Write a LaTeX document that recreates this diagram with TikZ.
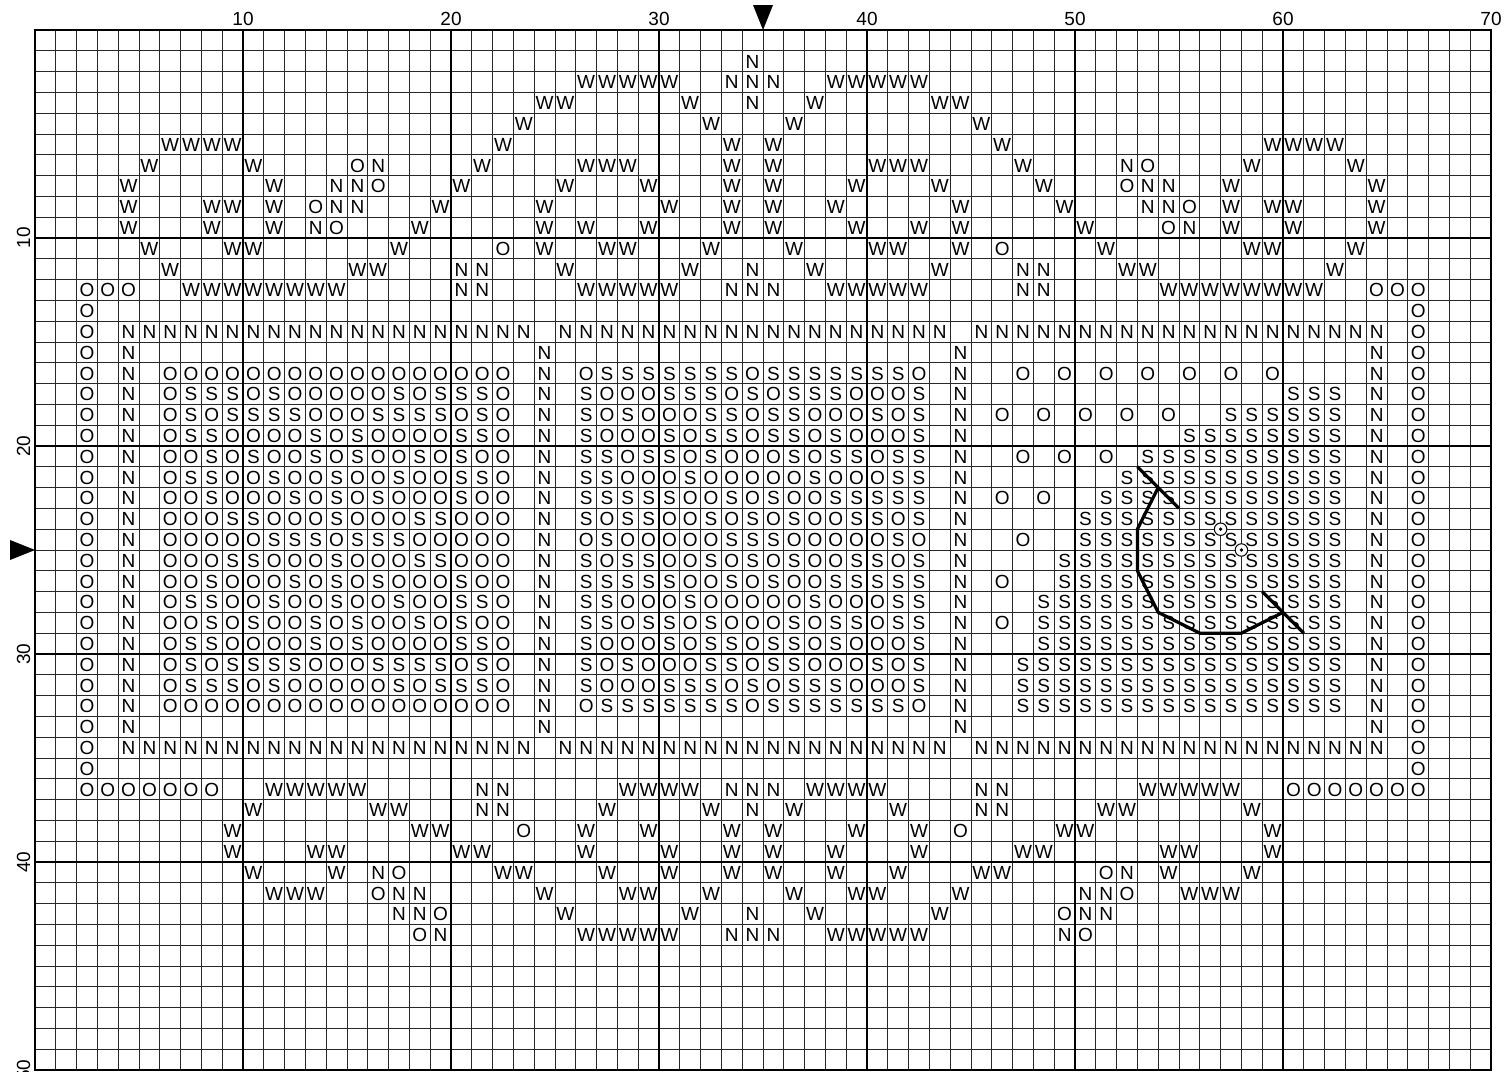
\documentclass[tikz,border=0pt]{standalone}
\usepackage{fontspec}
\setmainfont{Liberation Sans}
\usepackage{tikz}
\definecolor{gridgray}{RGB}{40,40,40}

\newcount\stitchrow
\newcount\stitchcol
\def\parsechars#1{%
  \ifx\relax#1\else
    \advance\stitchcol by 1\relax
    \ifx.#1\else
      \node[sym] (s-\the\stitchrow-\the\stitchcol) at ({\the\stitchcol-0.5},{0.17-\the\stitchrow}) {#1};%
    \fi
    \expandafter\parsechars
  \fi}
\newcommand\chartrow[2]{\stitchrow=#1\relax\stitchcol=0\relax\parsechars#2\relax}
\newcommand\panelrow[4]{\chartrow{#1}{..O.N.#2.N.#3.N.#4.N.O...}}

\begin{document}
\begin{tikzpicture}[
    x=0.5cm, y=0.5cm,
    sym/.style={anchor=base, inner sep=0pt, font=\fontsize{13}{15}\selectfont},
    axislabel/.style={anchor=base, inner sep=0pt, font=\fontsize{13}{15}\selectfont},
    gridline/.style={line width=0.6pt, draw=gridgray},
    majorline/.style={line width=1.3pt, draw=black},
    stitch/.style={line width=2.2pt, line join=round, draw=black},
    knot/.style={draw=black, fill=white, line width=0.7pt},
    marker/.style={fill=black}
]
\useasboundingbox (-1.683,1.442) rectangle (70.673,-50.096);

\foreach \x in {0,...,70} \draw[gridline] (\x,0) -- (\x,-50);
\foreach \y in {0,...,50} \draw[gridline] (0,-\y) -- (70,-\y);
\foreach \x in {10,20,...,60} \draw[majorline] (\x,0) -- (\x,-50);
\foreach \y in {10,20,...,40} \draw[majorline] (0,-\y) -- (70,-\y);
\draw[majorline] (0,0) rectangle (70,-50);

\foreach \x in {10,20,...,70} \node[axislabel] (top\x) at (\x,0.24) {\x};
\foreach \y in {10,20,...,50} \node[axislabel, rotate=90] (side\y) at (-0.24,-\y) {\y};
\fill[marker] (34.52,1.2) -- (35.48,1.2) -- (35,0) -- cycle;
\fill[marker] (-1.2,-24.52) -- (-1.2,-25.48) -- (0,-25) -- cycle;

\chartrow{2}{.......... .......... .......... ....N..... .......... .......... ..........}
\chartrow{3}{.......... .......... ......WWWW W..NNN..WW WWW....... .......... ..........}
\chartrow{4}{.......... .......... ....WW.... .W..N..W.. ...WW..... .......... ..........}
\chartrow{5}{.......... .......... ...W...... ..W...W... .....W.... .......... ..........}
\chartrow{6}{......WWWW .......... ..W....... ...W.W.... ......W... .........W WWW.......}
\chartrow{7}{.....W.... W....ON... .W....WWW. ...W.W.... WWW....W.. ..NO....W. ...W......}
\chartrow{8}{....W..... .W..NNO... W....W...W ...W.W...W ...W....W. ..ONN..W.. ....W.....}
\chartrow{9}{....W...WW .W.ONN...W ....W..... W..W.W..W. ....W....W ...NNO.W.W W...W.....}
\chartrow{10}{....W...W. .W.NO...W. ....W.W..W ...W.W...W ..W.W..... W...ON.W.. W...W.....}
\chartrow{11}{.....W...W W......W.. ..O.W..WW. ..W...W... WW..W.O... .W......WW ...W......}
\chartrow{12}{......W... .....WW... NN...W.... .W..N..W.. ...W...NN. ..WW...... ..W.......}
\chartrow{13}{..OOO..WWW WWWWW..... NN....WWWW W..NNN..WW WWW....NN. ....WWWWWW WW..OOO...}
\chartrow{14}{..O....... .......... .......... .......... .......... .......... ......O...}
\chartrow{15}{..O.NNNNNN NNNNNNNNNN NNNN.NNNNN NNNNNNNNNN NNNN.NNNNN NNNNNNNNNN NNNNN.O...}
\chartrow{16}{..O.N..... .......... ....N..... .......... ....N..... .......... ....N.O...}

\panelrow{17}{OOOO OOOOO OOOOO OOO}{OSSS SSSSO SSSSS SSO}{.O.O .O.O. O.O.O ...}
\panelrow{18}{OSSS OSOOO OOSOS SSO}{SOOO SSSOS OSSSO OOS}{.... ..... ..... SSS}
\panelrow{19}{OSOS SSSOO OSSSS OSO}{SOSO OOSSO SSOOO SOS}{O.O. O.O.O ..SSS SSS}
\panelrow{20}{OSSO OOOSO SOOOO SSO}{SOOO SOSSO SSOSO OOS}{.... ..... SSSSS SSS}
\panelrow{21}{OOSO SOOSO SOOSO SOO}{SSOS SOSOO OSOSS OSS}{.O.O .O.SS SSSSS SSS}
\panelrow{22}{OSSO OSOOS OOSOO SSO}{SSOO OSOOO OOSOO OSS}{.... ..SSS SSSSS SSS}
\panelrow{23}{OOSO OOSOS OSOOO SOO}{SSSS SOOSO SOOSS SSS}{O.O. .SSSS SSSSS SSS}
\panelrow{24}{OOOS SOOOS OOOSS OOO}{SOSS OOSOS OSOOS SOS}{.... SSSSS SSSSS SSS}
\panelrow{25}{OOOO OSSSO SSSOO OOO}{OSOO OOOSS SOOOO OSO}{.O.. SSSSS SSSSS SSS}
\panelrow{26}{OOOS SOOOS OOOSS OOO}{SOSS OOSOS OSOOS SOS}{...S SSSSS SSSSS SSS}
\panelrow{27}{OOSO OOSOS OSOOO SOO}{SSSS SOOSO SOOSS SSS}{O..S SSSSS SSSSS SSS}
\panelrow{28}{OSSO OSOOS OOSOO SSO}{SSOO OSOOO OOSOO OSS}{..SS SSSSS SSSSS SSS}
\panelrow{29}{OOSO SOOSO SOOSO SOO}{SSOS SOSOO OSOSS OSS}{O.SS SSSSS SSSSS SSS}
\panelrow{30}{OSSO OOOSO SOOOO SSO}{SOOO SOSSO SSOSO OOS}{..SS SSSSS SSSSS SSS}
\panelrow{31}{OSOS SSSOO OSSSS OSO}{SOSO OOSSO SSOOO SOS}{.SSS SSSSS SSSSS SSS}
\panelrow{32}{OSSS OSOOO OOSOS SSO}{SOOO SSSOS OSSSO OOS}{.SSS SSSSS SSSSS SSS}
\panelrow{33}{OOOO OOOOO OOOOO OOO}{OSSS SSSSO SSSSS SSO}{.SSS SSSSS SSSSS SSS}

\chartrow{34}{..O.N..... .......... ....N..... .......... ....N..... .......... ....N.O...}
\chartrow{35}{..O.NNNNNN NNNNNNNNNN NNNN.NNNNN NNNNNNNNNN NNNN.NNNNN NNNNNNNNNN NNNNN.O...}
\chartrow{36}{..O....... .......... .......... .......... .......... .......... ......O...}
\chartrow{37}{..OOOOOOO. .WWWWW.... .NN.....WW WW.NNN.WWW W....NN... ...WWWWW.. OOOOOOO...}
\chartrow{38}{.......... W.....WW.. .NN....W.. ..W.N.W... .W...NN... .WW.....W. ..........}
\chartrow{39}{.........W ........WW ...O..W..W ...W.W...W ..W.O....W W........W ..........}
\chartrow{40}{.........W ...WW..... WW....W... W..W.W..W. ..W....WW. ....WW...W ..........}
\chartrow{41}{.......... W...W.NO.. ..WW...W.. W..W.W..W. .W...WW... .ON.W...W. ..........}
\chartrow{42}{.......... .WWW..ONN. ....W...WW ..W...W..W W...W..... NNO..WWW.. ..........}
\chartrow{43}{.......... .......NNO .....W.... .W..N..W.. ...W.....O NN........ ..........}
\chartrow{44}{.......... ........ON ......WWWW W..NNN..WW WWW......N O......... ..........}

\draw[stitch] (53,-21) -- (55,-23);
\draw[stitch] (54,-22) -- (53,-24) -- (53,-26) -- (54,-28) -- (56,-29) -- (58,-29) -- (60,-28);
\draw[stitch] (59,-27) -- (61,-29);
\foreach \kx/\ky in {57/24,58/25} {
  \draw[knot] (\kx,-\ky) circle (0.3);
  \fill (\kx,-\ky) circle (0.09);
}
\end{tikzpicture}
\end{document}
